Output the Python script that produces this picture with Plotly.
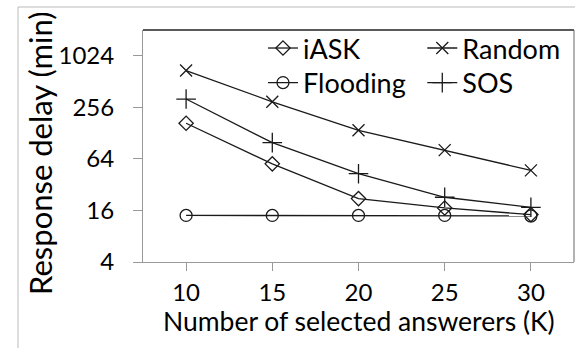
import plotly.graph_objects as go

k_values = [10, 15, 20, 25, 30]
iask = [167, 56, 22, 17.1, 14.3]
random_sel = [688, 297, 138, 81, 47]
flooding = [14, 14, 14, 14, 13.8]
sos = [320, 99, 43, 22.8, 17.4]
y_ticks = [4, 16, 64, 256, 1024]

FONT = "Lato"
INK = "#1a1a1a"

fig = go.Figure()

def add(name, ys, symbol, size, legend):
    fig.add_trace(go.Scatter(
        x=k_values, y=ys, name=name, mode="lines+markers", legend=legend,
        line=dict(color=INK, width=1.3),
        marker=dict(symbol=symbol, size=size, color=INK,
                    line=dict(color=INK, width=1.3)),
    ))

add("iASK", iask, "diamond-open", 11, "legend")
add("Random", random_sel, "x-thin-open", 12, "legend2")
add("Flooding", flooding, "circle-open", 12, "legend3")
add("SOS", sos, "cross-thin-open", 14, "legend4")

leg_common = dict(orientation="v", yanchor="top", xanchor="left",
                  font=dict(size=27, family=FONT), bgcolor="rgba(0,0,0,0)",
                  itemwidth=30)
col1, col2 = 0.2784, 0.648
row1, row2 = 1.026, 0.877

fig.update_layout(
    width=575, height=348,
    margin=dict(l=143, r=1, t=30, b=86),
    paper_bgcolor="white", plot_bgcolor="white",
    font=dict(family=FONT, color="black", size=25),
    showlegend=True,
    legend=dict(x=col1, y=row1, **leg_common),
    legend2=dict(x=col2, y=row1, **leg_common),
    legend3=dict(x=col1, y=row2, **leg_common),
    legend4=dict(x=col2, y=row2, **leg_common),
    xaxis=dict(range=[7.5, 32.5], tickvals=k_values, ticks="outside", ticklen=8,
               tickcolor="#999999", linecolor="#999999", linewidth=1,
               showgrid=False, zeroline=False, mirror=False, automargin=False,
               ticklabelstandoff=1,
               tickfont=dict(size=24, family=FONT)),
    yaxis=dict(type="log", range=[0.60206, 3.31133], tickvals=y_ticks,
               ticktext=[str(v) for v in y_ticks], ticks="outside", ticklen=9,
               tickcolor="#999999", linecolor="#999999", linewidth=1,
               showgrid=False, zeroline=False, automargin=False,
               ticklabelstandoff=14,
               tickfont=dict(size=24, family=FONT)),
    annotations=[
        dict(text="Number of selected answerers (K)", xref="paper", yref="paper",
             x=0.502, y=-0.254, xanchor="center", yanchor="middle",
             showarrow=False, font=dict(size=26.5, family=FONT, color="black")),
        dict(text="Response delay (min)", xref="paper", yref="paper",
             x=-0.239, y=0.47, xanchor="center", yanchor="middle", textangle=-90,
             showarrow=False, font=dict(size=31, family=FONT, color="black")),
    ],
    shapes=[
        dict(type="line", xref="paper", yref="paper", x0=0, x1=1, y0=1, y1=1,
             line=dict(color="#222222", width=1.3)),
        dict(type="line", xref="paper", yref="paper", x0=1, x1=1, y0=0, y1=1,
             line=dict(color="#666666", width=1)),
        dict(type="line", xref="paper", yref="paper", x0=-125/431, x1=1.1,
             y0=1 + 23/232, y1=1 + 23/232, line=dict(color="#bbbbbb", width=1)),
        dict(type="line", xref="paper", yref="paper", x0=-125/431, x1=-125/431,
             y0=-1, y1=1 + 23/232, line=dict(color="#bbbbbb", width=1)),
    ],
)

fig.write_html("out.html", config={"displayModeBar": False},
               post_script="document.body.style.margin='0';")
